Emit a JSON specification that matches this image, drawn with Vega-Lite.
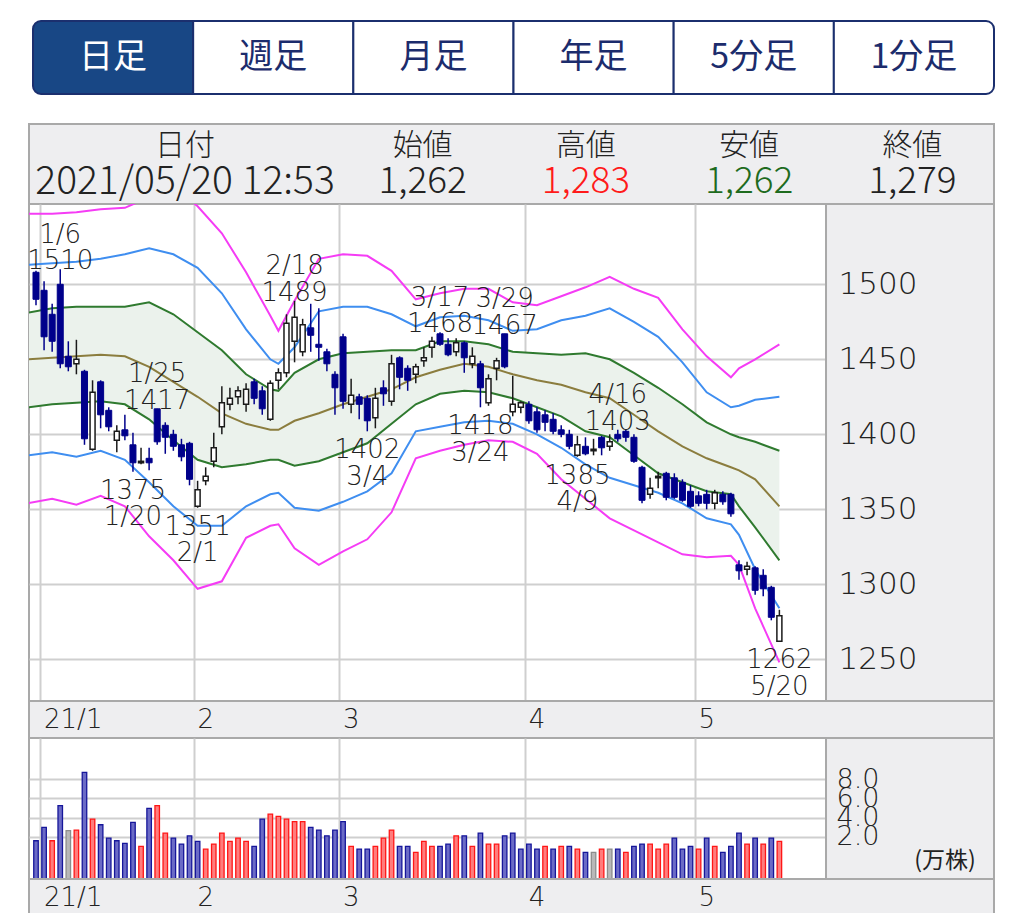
{
  "$schema": "https://vega.github.io/schema/vega-lite/v6.json",
  "background": "white",
  "padding": {"left": 28, "top": 20, "right": 0, "bottom": 0},
  "config": {
    "axis": {"title": null, "labels": false, "ticks": false, "domain": false, "grid": false},
    "view": {"stroke": null},
    "scale": {"continuousPadding": 0},
    "font": "DejaVu Sans"
  },
  "datasets": {
    "tabs": [{"t": "日足"}, {"t": "週足"}, {"t": "月足"}, {"t": "年足"}, {"t": "5分足"}, {"t": "1分足"}],
    "headA": [{"c": "日付", "v": "2021/05/20 12:53"}],
    "headB": [
      {"c": "始値", "v": "1,262", "tone": "n"},
      {"c": "高値", "v": "1,283", "tone": "hi"},
      {"c": "安値", "v": "1,262", "tone": "lo"},
      {"c": "終値", "v": "1,279", "tone": "n"}
    ],
    "months": [{"d": 0.5, "m": "21/1"}, {"d": 19.5, "m": "2"}, {"d": 37.5, "m": "3"}, {"d": 60.5, "m": "4"}, {"d": 81.5, "m": "5"}],
    "notes": [
      {"d": 3, "p": 1510, "t": "1/6\n1510", "k": "hi"},
      {"d": 15, "p": 1417, "t": "1/25\n1417", "k": "hi"},
      {"d": 12, "p": 1375, "t": "1375\n1/20", "k": "lo"},
      {"d": 20, "p": 1351, "t": "1351\n2/1", "k": "lo"},
      {"d": 32, "p": 1489, "t": "2/18\n1489", "k": "hi"},
      {"d": 41, "p": 1402, "t": "1402\n3/4", "k": "lo"},
      {"d": 50, "p": 1468, "t": "3/17\n1468", "k": "hi"},
      {"d": 55, "p": 1418, "t": "1418\n3/24", "k": "lo"},
      {"d": 58, "p": 1467, "t": "3/29\n1467", "k": "hi"},
      {"d": 67, "p": 1385, "t": "1385\n4/9", "k": "lo"},
      {"d": 72, "p": 1403, "t": "4/16\n1403", "k": "hi"},
      {"d": 92, "p": 1262, "t": "1262\n5/20", "k": "lo"}
    ],
    "bands": [
      {"d": -1, "u3": 1547, "u2": 1513, "u1": 1481, "ma": 1450, "l1": 1418, "l2": 1386, "l3": 1354},
      {"d": 2, "u3": 1547, "u2": 1514, "u1": 1484, "ma": 1451, "l1": 1420, "l2": 1388, "l3": 1357},
      {"d": 5, "u3": 1548, "u2": 1515, "u1": 1485, "ma": 1452, "l1": 1421, "l2": 1385, "l3": 1353},
      {"d": 8, "u3": 1550, "u2": 1517, "u1": 1485, "ma": 1453, "l1": 1422, "l2": 1389, "l3": 1359},
      {"d": 11, "u3": 1551, "u2": 1520, "u1": 1485, "ma": 1452, "l1": 1420, "l2": 1383, "l3": 1352},
      {"d": 14, "u3": 1558, "u2": 1524, "u1": 1488, "ma": 1445, "l1": 1410, "l2": 1368, "l3": 1332},
      {"d": 17, "u3": 1565, "u2": 1520, "u1": 1480, "ma": 1435, "l1": 1396, "l2": 1352, "l3": 1316},
      {"d": 20, "u3": 1552, "u2": 1511, "u1": 1468, "ma": 1425, "l1": 1383, "l2": 1339, "l3": 1297},
      {"d": 23, "u3": 1534, "u2": 1494, "u1": 1456, "ma": 1414, "l1": 1378, "l2": 1339, "l3": 1302},
      {"d": 26, "u3": 1508, "u2": 1470, "u1": 1440, "ma": 1407, "l1": 1380, "l2": 1352, "l3": 1331},
      {"d": 29, "u3": 1479, "u2": 1450, "u1": 1430, "ma": 1403, "l1": 1383, "l2": 1360, "l3": 1339},
      {"d": 30, "u3": 1469, "u2": 1447, "u1": 1429, "ma": 1403, "l1": 1383, "l2": 1361, "l3": 1340},
      {"d": 32, "u3": 1489, "u2": 1458, "u1": 1441, "ma": 1409, "l1": 1379, "l2": 1351, "l3": 1324},
      {"d": 35, "u3": 1517, "u2": 1482, "u1": 1450, "ma": 1414, "l1": 1382, "l2": 1349, "l3": 1313},
      {"d": 38, "u3": 1520, "u2": 1485, "u1": 1454, "ma": 1420, "l1": 1388, "l2": 1355, "l3": 1322},
      {"d": 41, "u3": 1519, "u2": 1485, "u1": 1455, "ma": 1425, "l1": 1394, "l2": 1362, "l3": 1330},
      {"d": 44, "u3": 1509, "u2": 1480, "u1": 1456, "ma": 1430, "l1": 1407, "l2": 1374, "l3": 1348},
      {"d": 47, "u3": 1490, "u2": 1472, "u1": 1456, "ma": 1438, "l1": 1420, "l2": 1402, "l3": 1384},
      {"d": 50, "u3": 1494, "u2": 1478, "u1": 1462, "ma": 1443, "l1": 1427, "l2": 1405, "l3": 1389},
      {"d": 53, "u3": 1497, "u2": 1479, "u1": 1462, "ma": 1447, "l1": 1429, "l2": 1408, "l3": 1393},
      {"d": 56, "u3": 1497, "u2": 1476, "u1": 1460, "ma": 1445, "l1": 1428, "l2": 1409, "l3": 1396},
      {"d": 59, "u3": 1488, "u2": 1469, "u1": 1455, "ma": 1440, "l1": 1424, "l2": 1407, "l3": 1395},
      {"d": 62, "u3": 1486, "u2": 1470, "u1": 1454, "ma": 1436, "l1": 1418, "l2": 1400, "l3": 1387},
      {"d": 65, "u3": 1492, "u2": 1476, "u1": 1453, "ma": 1433, "l1": 1412, "l2": 1391, "l3": 1370},
      {"d": 68, "u3": 1498, "u2": 1479, "u1": 1454, "ma": 1428, "l1": 1402, "l2": 1380, "l3": 1357},
      {"d": 71, "u3": 1505, "u2": 1484, "u1": 1450, "ma": 1424, "l1": 1398, "l2": 1371, "l3": 1344},
      {"d": 74, "u3": 1497, "u2": 1475, "u1": 1441, "ma": 1413, "l1": 1386, "l2": 1366, "l3": 1336},
      {"d": 77, "u3": 1491, "u2": 1465, "u1": 1431, "ma": 1402, "l1": 1374, "l2": 1361, "l3": 1328},
      {"d": 80, "u3": 1470, "u2": 1448, "u1": 1420, "ma": 1392, "l1": 1368, "l2": 1354, "l3": 1320},
      {"d": 83, "u3": 1452, "u2": 1428, "u1": 1408, "ma": 1384, "l1": 1362, "l2": 1344, "l3": 1318},
      {"d": 86, "u3": 1438, "u2": 1418, "u1": 1400, "ma": 1378, "l1": 1360, "l2": 1340, "l3": 1319},
      {"d": 87, "u3": 1444, "u2": 1419, "u1": 1398, "ma": 1376, "l1": 1352, "l2": 1333, "l3": 1313},
      {"d": 89, "u3": 1450, "u2": 1423, "u1": 1395, "ma": 1370, "l1": 1338, "l2": 1310, "l3": 1284},
      {"d": 92, "u3": 1460, "u2": 1425, "u1": 1389, "ma": 1352, "l1": 1316, "l2": 1284, "l3": 1248}
    ],
    "candles": [
      {"d": 0, "o": 1508, "h": 1509, "l": 1486, "c": 1490, "v": 1.58, "vc": "down"},
      {"d": 1, "o": 1496, "h": 1502, "l": 1456, "c": 1465, "v": 2.97, "vc": "down"},
      {"d": 2, "o": 1480, "h": 1487, "l": 1455, "c": 1462, "v": 1.58, "vc": "up"},
      {"d": 3, "o": 1500, "h": 1510, "l": 1444, "c": 1447, "v": 5.23, "vc": "down"},
      {"d": 4, "o": 1452, "h": 1462, "l": 1442, "c": 1445, "v": 2.63, "vc": "flat"},
      {"d": 5, "o": 1447, "h": 1463, "l": 1440, "c": 1450, "v": 2.69, "vc": "up"},
      {"d": 6, "o": 1442, "h": 1443, "l": 1393, "c": 1397, "v": 8.7, "vc": "down"},
      {"d": 7, "o": 1390, "h": 1436, "l": 1389, "c": 1428, "v": 3.84, "vc": "up"},
      {"d": 8, "o": 1435, "h": 1436, "l": 1404, "c": 1413, "v": 3.25, "vc": "down"},
      {"d": 9, "o": 1416, "h": 1418, "l": 1402, "c": 1405, "v": 1.86, "vc": "down"},
      {"d": 10, "o": 1396, "h": 1406, "l": 1388, "c": 1402, "v": 1.58, "vc": "down"},
      {"d": 11, "o": 1403, "h": 1413, "l": 1396, "c": 1399, "v": 1.3, "vc": "down"},
      {"d": 12, "o": 1393, "h": 1401, "l": 1375, "c": 1381, "v": 3.5, "vc": "down"},
      {"d": 13, "o": 1381, "h": 1391, "l": 1380, "c": 1382, "v": 0.99, "vc": "up"},
      {"d": 14, "o": 1384, "h": 1391, "l": 1376, "c": 1381, "v": 4.95, "vc": "down"},
      {"d": 15, "o": 1417, "h": 1417, "l": 1393, "c": 1395, "v": 5.23, "vc": "up"},
      {"d": 16, "o": 1406, "h": 1408, "l": 1387, "c": 1398, "v": 2.38, "vc": "up"},
      {"d": 17, "o": 1400, "h": 1403, "l": 1389, "c": 1392, "v": 1.86, "vc": "down"},
      {"d": 18, "o": 1393, "h": 1397, "l": 1382, "c": 1385, "v": 1.24, "vc": "down"},
      {"d": 19, "o": 1394, "h": 1395, "l": 1366, "c": 1370, "v": 2.1, "vc": "down"},
      {"d": 20, "o": 1352, "h": 1369, "l": 1351, "c": 1363, "v": 1.51, "vc": "down"},
      {"d": 21, "o": 1369, "h": 1378, "l": 1366, "c": 1372, "v": 0.71, "vc": "up"},
      {"d": 22, "o": 1382, "h": 1401, "l": 1378, "c": 1391, "v": 1.24, "vc": "up"},
      {"d": 23, "o": 1405, "h": 1432, "l": 1400, "c": 1421, "v": 2.38, "vc": "up"},
      {"d": 24, "o": 1420, "h": 1431, "l": 1416, "c": 1424, "v": 1.51, "vc": "up"},
      {"d": 25, "o": 1425, "h": 1432, "l": 1420, "c": 1429, "v": 1.86, "vc": "up"},
      {"d": 26, "o": 1420, "h": 1434, "l": 1415, "c": 1430, "v": 1.51, "vc": "up"},
      {"d": 27, "o": 1435, "h": 1437, "l": 1420, "c": 1424, "v": 0.99, "vc": "down"},
      {"d": 28, "o": 1429, "h": 1432, "l": 1413, "c": 1417, "v": 3.84, "vc": "down"},
      {"d": 29, "o": 1410, "h": 1436, "l": 1409, "c": 1434, "v": 4.36, "vc": "up"},
      {"d": 30, "o": 1436, "h": 1444, "l": 1430, "c": 1441, "v": 4.12, "vc": "up"},
      {"d": 31, "o": 1441, "h": 1480, "l": 1438, "c": 1474, "v": 3.84, "vc": "up"},
      {"d": 32, "o": 1462, "h": 1489, "l": 1448, "c": 1478, "v": 3.57, "vc": "up"},
      {"d": 33, "o": 1455, "h": 1477, "l": 1452, "c": 1473, "v": 3.57, "vc": "up"},
      {"d": 34, "o": 1471, "h": 1487, "l": 1455, "c": 1466, "v": 2.97, "vc": "down"},
      {"d": 35, "o": 1460, "h": 1484, "l": 1449, "c": 1458, "v": 2.69, "vc": "down"},
      {"d": 36, "o": 1455, "h": 1457, "l": 1442, "c": 1447, "v": 2.1, "vc": "down"},
      {"d": 37, "o": 1440, "h": 1442, "l": 1413, "c": 1431, "v": 2.69, "vc": "down"},
      {"d": 38, "o": 1465, "h": 1467, "l": 1417, "c": 1422, "v": 3.57, "vc": "down"},
      {"d": 39, "o": 1420, "h": 1437, "l": 1414, "c": 1426, "v": 0.99, "vc": "up"},
      {"d": 40, "o": 1425, "h": 1427, "l": 1410, "c": 1420, "v": 0.71, "vc": "down"},
      {"d": 41, "o": 1424, "h": 1426, "l": 1402, "c": 1409, "v": 0.71, "vc": "down"},
      {"d": 42, "o": 1411, "h": 1431, "l": 1404, "c": 1424, "v": 0.99, "vc": "up"},
      {"d": 43, "o": 1431, "h": 1436, "l": 1419, "c": 1427, "v": 1.86, "vc": "up"},
      {"d": 44, "o": 1422, "h": 1453, "l": 1419, "c": 1447, "v": 2.69, "vc": "up"},
      {"d": 45, "o": 1451, "h": 1452, "l": 1430, "c": 1438, "v": 0.99, "vc": "down"},
      {"d": 46, "o": 1444, "h": 1446, "l": 1429, "c": 1436, "v": 0.99, "vc": "down"},
      {"d": 47, "o": 1440, "h": 1447, "l": 1434, "c": 1445, "v": 0.37, "vc": "up"},
      {"d": 48, "o": 1449, "h": 1458, "l": 1445, "c": 1451, "v": 1.51, "vc": "up"},
      {"d": 49, "o": 1458, "h": 1465, "l": 1451, "c": 1462, "v": 0.99, "vc": "up"},
      {"d": 50, "o": 1467, "h": 1468, "l": 1459, "c": 1460, "v": 0.99, "vc": "down"},
      {"d": 51, "o": 1460, "h": 1464, "l": 1452, "c": 1453, "v": 1.24, "vc": "down"},
      {"d": 52, "o": 1455, "h": 1464, "l": 1452, "c": 1461, "v": 2.1, "vc": "up"},
      {"d": 53, "o": 1461, "h": 1462, "l": 1441, "c": 1451, "v": 2.1, "vc": "down"},
      {"d": 54, "o": 1447, "h": 1458, "l": 1444, "c": 1452, "v": 0.99, "vc": "up"},
      {"d": 55, "o": 1447, "h": 1449, "l": 1418, "c": 1431, "v": 2.38, "vc": "down"},
      {"d": 56, "o": 1421, "h": 1440, "l": 1419, "c": 1437, "v": 1.24, "vc": "up"},
      {"d": 57, "o": 1444, "h": 1451, "l": 1436, "c": 1449, "v": 1.24, "vc": "up"},
      {"d": 58, "o": 1467, "h": 1467, "l": 1444, "c": 1445, "v": 2.1, "vc": "down"},
      {"d": 59, "o": 1415, "h": 1439, "l": 1412, "c": 1420, "v": 2.38, "vc": "down"},
      {"d": 60, "o": 1418, "h": 1422, "l": 1414, "c": 1421, "v": 0.71, "vc": "down"},
      {"d": 61, "o": 1420, "h": 1422, "l": 1407, "c": 1409, "v": 1.24, "vc": "down"},
      {"d": 62, "o": 1415, "h": 1418, "l": 1401, "c": 1403, "v": 0.71, "vc": "down"},
      {"d": 63, "o": 1413, "h": 1416, "l": 1402, "c": 1408, "v": 0.99, "vc": "up"},
      {"d": 64, "o": 1410, "h": 1414, "l": 1400, "c": 1402, "v": 0.71, "vc": "down"},
      {"d": 65, "o": 1403, "h": 1406, "l": 1398, "c": 1400, "v": 0.99, "vc": "up"},
      {"d": 66, "o": 1400, "h": 1403, "l": 1390, "c": 1392, "v": 0.99, "vc": "down"},
      {"d": 67, "o": 1386, "h": 1399, "l": 1385, "c": 1393, "v": 0.71, "vc": "up"},
      {"d": 68, "o": 1392, "h": 1398, "l": 1386, "c": 1387, "v": 0.37, "vc": "down"},
      {"d": 69, "o": 1389, "h": 1397, "l": 1386, "c": 1390, "v": 0.37, "vc": "flat"},
      {"d": 70, "o": 1398, "h": 1399, "l": 1386, "c": 1391, "v": 0.71, "vc": "up"},
      {"d": 71, "o": 1392, "h": 1400, "l": 1389, "c": 1395, "v": 0.71, "vc": "flat"},
      {"d": 72, "o": 1400, "h": 1403, "l": 1395, "c": 1397, "v": 0.71, "vc": "down"},
      {"d": 73, "o": 1402, "h": 1403, "l": 1395, "c": 1398, "v": 0.37, "vc": "up"},
      {"d": 74, "o": 1398, "h": 1400, "l": 1381, "c": 1382, "v": 0.99, "vc": "down"},
      {"d": 75, "o": 1378, "h": 1379, "l": 1354, "c": 1356, "v": 1.24, "vc": "down"},
      {"d": 76, "o": 1360, "h": 1371, "l": 1357, "c": 1364, "v": 1.24, "vc": "up"},
      {"d": 77, "o": 1371, "h": 1375, "l": 1364, "c": 1372, "v": 0.71, "vc": "up"},
      {"d": 78, "o": 1374, "h": 1375, "l": 1356, "c": 1358, "v": 1.24, "vc": "up"},
      {"d": 79, "o": 1371, "h": 1374, "l": 1357, "c": 1358, "v": 1.86, "vc": "down"},
      {"d": 80, "o": 1368, "h": 1370, "l": 1355, "c": 1356, "v": 0.71, "vc": "down"},
      {"d": 81, "o": 1362, "h": 1366, "l": 1351, "c": 1352, "v": 0.99, "vc": "down"},
      {"d": 82, "o": 1359, "h": 1362, "l": 1352, "c": 1354, "v": 0.71, "vc": "up"},
      {"d": 83, "o": 1360, "h": 1363, "l": 1350, "c": 1354, "v": 1.86, "vc": "down"},
      {"d": 84, "o": 1354, "h": 1363, "l": 1350, "c": 1361, "v": 0.99, "vc": "up"},
      {"d": 85, "o": 1360, "h": 1362, "l": 1353, "c": 1355, "v": 0.37, "vc": "down"},
      {"d": 86, "o": 1360, "h": 1361, "l": 1345, "c": 1347, "v": 0.99, "vc": "down"},
      {"d": 87, "o": 1313, "h": 1316, "l": 1303, "c": 1309, "v": 2.38, "vc": "down"},
      {"d": 88, "o": 1310, "h": 1315, "l": 1306, "c": 1312, "v": 1.24, "vc": "up"},
      {"d": 89, "o": 1311, "h": 1312, "l": 1293, "c": 1296, "v": 1.86, "vc": "down"},
      {"d": 90, "o": 1306, "h": 1310, "l": 1292, "c": 1297, "v": 1.24, "vc": "up"},
      {"d": 91, "o": 1298, "h": 1299, "l": 1276, "c": 1278, "v": 1.86, "vc": "down"},
      {"d": 92, "o": 1262, "h": 1283, "l": 1262, "c": 1279, "v": 1.51, "vc": "up"}
    ]
  },
  "spacing": 30,
  "bounds": "flush",
  "vconcat": [
    {
      "width": 965,
      "height": 73,
      "view": {"stroke": null},
      "data": {"name": "tabs"},
      "encoding": {
        "x": {"field": "t", "type": "nominal", "sort": null, "scale": {"range": [4, 965], "paddingInner": 0, "paddingOuter": 0}, "axis": null}
      },
      "layer": [
        {"transform": [{"filter": "datum.t == '日足'"}], "mark": {"type": "rect", "fill": "#184785", "stroke": "#1b2f6e", "strokeWidth": 2, "cornerRadiusTopLeft": 8, "cornerRadiusBottomLeft": 8}},
        {"transform": [{"filter": "datum.t != '日足' && datum.t != '1分足'"}], "mark": {"type": "rect", "fill": "white", "stroke": "#1b2f6e", "strokeWidth": 2}},
        {"transform": [{"filter": "datum.t == '1分足'"}], "mark": {"type": "rect", "fill": "white", "stroke": "#1b2f6e", "strokeWidth": 2, "cornerRadiusTopRight": 8, "cornerRadiusBottomRight": 8}},
        {"transform": [{"filter": "datum.t == '日足'"}], "mark": {"type": "text", "font": "Noto Sans CJK JP", "fontSize": 34, "color": "white"}, "encoding": {"text": {"field": "t"}}},
        {"transform": [{"filter": "datum.t != '日足'"}], "mark": {"type": "text", "font": "Noto Sans CJK JP", "fontSize": 34, "color": "#1c2c6c"}, "encoding": {"text": {"field": "t"}}}
      ]
    },
    {
      "spacing": 0,
      "bounds": "flush",
      "vconcat": [
        {
          "width": 965,
          "height": 80,
          "view": {"fill": "#eeeef0", "stroke": "#a9a9a9", "strokeWidth": 2},
          "resolve": {"scale": {"x": "independent"}},
          "layer": [
            {
              "data": {"name": "headA"},
              "mark": {"type": "text", "font": "Noto Sans CJK JP", "fontSize": 30, "fontWeight": 300, "color": "#222222"},
              "encoding": {
                "x": {"field": "c", "type": "nominal", "scale": {"range": [0, 312]}, "axis": null},
                "y": {"datum": "top", "type": "ordinal", "scale": {"type": "point", "domain": ["top", "bottom"], "padding": 0.6}, "axis": null},
                "text": {"field": "c"}
              }
            },
            {
              "data": {"name": "headA"},
              "mark": {"type": "text", "font": "Noto Sans CJK JP", "fontSize": 39, "fontWeight": 300, "color": "#222222"},
              "encoding": {
                "x": {"field": "c", "type": "nominal", "scale": {"range": [0, 312]}, "axis": null},
                "y": {"datum": "bottom", "type": "ordinal", "scale": {"type": "point", "domain": ["top", "bottom"], "padding": 0.6}, "axis": null},
                "text": {"field": "v"}
              }
            },
            {
              "data": {"name": "headB"},
              "mark": {"type": "text", "font": "Noto Sans CJK JP", "fontSize": 30, "fontWeight": 300, "color": "#222222"},
              "encoding": {
                "x": {"field": "c", "type": "nominal", "sort": null, "scale": {"range": [312, 965]}, "axis": null},
                "y": {"datum": "top", "type": "ordinal", "scale": {"type": "point", "domain": ["top", "bottom"], "padding": 0.6}, "axis": null},
                "text": {"field": "c"}
              }
            },
            {
              "data": {"name": "headB"},
              "transform": [{"filter": "datum.tone == 'n'"}],
              "mark": {"type": "text", "font": "Noto Sans CJK JP", "fontSize": 37, "fontWeight": 300, "color": "#222222"},
              "encoding": {
                "x": {"field": "c", "type": "nominal", "sort": ["始値", "高値", "安値", "終値"], "scale": {"domain": ["始値", "高値", "安値", "終値"], "range": [312, 965]}, "axis": null},
                "y": {"datum": "bottom", "type": "ordinal", "scale": {"type": "point", "domain": ["top", "bottom"], "padding": 0.6}, "axis": null},
                "text": {"field": "v"}
              }
            },
            {
              "data": {"name": "headB"},
              "transform": [{"filter": "datum.tone == 'hi'"}],
              "mark": {"type": "text", "font": "Noto Sans CJK JP", "fontSize": 37, "fontWeight": 300, "color": "#ff1a1a"},
              "encoding": {
                "x": {"field": "c", "type": "nominal", "sort": ["始値", "高値", "安値", "終値"], "scale": {"domain": ["始値", "高値", "安値", "終値"], "range": [312, 965]}, "axis": null},
                "y": {"datum": "bottom", "type": "ordinal", "scale": {"type": "point", "domain": ["top", "bottom"], "padding": 0.6}, "axis": null},
                "text": {"field": "v"}
              }
            },
            {
              "data": {"name": "headB"},
              "transform": [{"filter": "datum.tone == 'lo'"}],
              "mark": {"type": "text", "font": "Noto Sans CJK JP", "fontSize": 37, "fontWeight": 300, "color": "#1e6b1e"},
              "encoding": {
                "x": {"field": "c", "type": "nominal", "sort": ["始値", "高値", "安値", "終値"], "scale": {"domain": ["始値", "高値", "安値", "終値"], "range": [312, 965]}, "axis": null},
                "y": {"datum": "bottom", "type": "ordinal", "scale": {"type": "point", "domain": ["top", "bottom"], "padding": 0.6}, "axis": null},
                "text": {"field": "v"}
              }
            }
          ]
        },
        {
          "width": 965,
          "height": 497,
          "view": {"fill": "white", "stroke": "#a9a9a9", "strokeWidth": 2},
          "resolve": {"axis": {"y": "independent"}},
          "layer": [
            {
              "encoding": {
                "x": {"field": "d", "type": "quantitative", "scale": {"domain": [-0.866, 118.56], "nice": false, "zero": false, "padding": 0},
                  "axis": {"values": [0.5, 19.5, 37.5, 60.5, 81.5], "grid": true, "gridColor": "#cfcfcf", "gridWidth": 2}}
              },
              "layer": [
                {
                  "data": {"name": "bands"},
                  "mark": {"type": "area", "color": "#ebf2ec", "clip": true},
                  "encoding": {
                    "y": {"field": "u1", "type": "quantitative", "scale": {"domain": [1222.2, 1553.53], "nice": false, "zero": false, "padding": 0},
                      "axis": {"orient": "left", "values": [1250, 1300, 1350, 1400, 1450, 1500], "grid": true, "gridColor": "#cfcfcf", "gridWidth": 2}},
                    "y2": {"field": "l1"}
                  }
                },
                {
                  "data": {"name": "bands"},
                  "transform": [{"fold": ["u3", "u2", "u1", "ma", "l1", "l2", "l3"], "as": ["band", "val"]}],
                  "mark": {"type": "line", "strokeWidth": 2, "clip": true},
                  "encoding": {
                    "y": {"field": "val", "type": "quantitative", "scale": {"domain": [1222.2, 1553.53], "nice": false, "zero": false, "padding": 0}},
                    "color": {"field": "band", "type": "nominal", "scale": {"domain": ["u3", "u2", "u1", "ma", "l1", "l2", "l3"], "range": ["#f53cf5", "#3f8ef0", "#2f7a2f", "#8b7d3e", "#2f7a2f", "#3f8ef0", "#f53cf5"]}, "legend": null}
                  }
                },
                {
                  "data": {"values": [{}]},
                  "mark": {"type": "rule", "color": "#555555", "strokeWidth": 1.5, "strokeDash": [4, 3]},
                  "encoding": {"x": {"datum": -0.75, "type": "quantitative"}}
                },
                {
                  "data": {"name": "candles"},
                  "transform": [{"filter": "datum.c < datum.o"}],
                  "mark": {"type": "rule", "color": "#00008b", "strokeWidth": 1.5},
                  "encoding": {
                    "y": {"field": "l", "type": "quantitative", "scale": {"domain": [1222.2, 1553.53], "nice": false, "zero": false, "padding": 0}},
                    "y2": {"field": "h"}
                  }
                },
                {
                  "data": {"name": "candles"},
                  "transform": [{"filter": "datum.c >= datum.o"}],
                  "mark": {"type": "rule", "color": "#1a1a1a", "strokeWidth": 1.5},
                  "encoding": {
                    "y": {"field": "l", "type": "quantitative", "scale": {"domain": [1222.2, 1553.53], "nice": false, "zero": false, "padding": 0}},
                    "y2": {"field": "h"}
                  }
                },
                {
                  "data": {"name": "candles"},
                  "transform": [{"filter": "datum.c < datum.o"}],
                  "mark": {"type": "bar", "width": 6, "fill": "#00008b", "stroke": "#00008b", "strokeWidth": 1},
                  "encoding": {
                    "y": {"field": "o", "type": "quantitative", "scale": {"domain": [1222.2, 1553.53], "nice": false, "zero": false, "padding": 0}},
                    "y2": {"field": "c"}
                  }
                },
                {
                  "data": {"name": "candles"},
                  "transform": [{"filter": "datum.c >= datum.o"}],
                  "mark": {"type": "bar", "width": 5, "fill": "white", "stroke": "#1a1a1a", "strokeWidth": 1.5},
                  "encoding": {
                    "y": {"field": "o", "type": "quantitative", "scale": {"domain": [1222.2, 1553.53], "nice": false, "zero": false, "padding": 0}},
                    "y2": {"field": "c"}
                  }
                },
                {
                  "data": {"name": "notes"},
                  "transform": [{"filter": "datum.k == 'hi'"}],
                  "mark": {"type": "text", "lineBreak": "\n", "lineHeight": 26.5, "fontSize": 26, "fontWeight": 300, "font": "DejaVu Sans", "color": "#222222", "baseline": "bottom", "align": "center", "dy": -21.5, "clip": true},
                  "encoding": {
                    "y": {"field": "p", "type": "quantitative", "scale": {"domain": [1222.2, 1553.53], "nice": false, "zero": false, "padding": 0}},
                    "text": {"field": "t"}
                  }
                },
                {
                  "data": {"name": "notes"},
                  "transform": [{"filter": "datum.k == 'lo'"}],
                  "mark": {"type": "text", "lineBreak": "\n", "lineHeight": 26.5, "fontSize": 26, "fontWeight": 300, "font": "DejaVu Sans", "color": "#222222", "baseline": "top", "align": "center", "dy": 6, "clip": true},
                  "encoding": {
                    "y": {"field": "p", "type": "quantitative", "scale": {"domain": [1222.2, 1553.53], "nice": false, "zero": false, "padding": 0}},
                    "text": {"field": "t"}
                  }
                }
              ]
            },
            {
              "data": {"values": [{}]},
              "mark": {"type": "rect", "fill": "#eeeef0", "stroke": "#a9a9a9", "strokeWidth": 2},
              "encoding": {
                "x": {"datum": 97.77, "type": "quantitative", "scale": {"domain": [-0.866, 118.56], "nice": false, "zero": false, "padding": 0},
                  "axis": {"values": [0.5, 19.5, 37.5, 60.5, 81.5], "grid": true, "gridColor": "#cfcfcf", "gridWidth": 2}},
                "x2": {"datum": 118.56},
                "y": {"datum": 1222.2, "type": "quantitative", "scale": {"domain": [1222.2, 1553.53], "nice": false, "zero": false, "padding": 0},
                  "axis": {"orient": "right", "offset": -156, "values": [1250, 1300, 1350, 1400, 1450, 1500], "format": "d", "labels": true, "labelAlign": "left", "labelBaseline": "middle", "labelPadding": 0, "tickSize": 0, "labelFontSize": 31, "labelFont": "DejaVu Sans", "labelFontWeight": 300, "labelColor": "#222222", "labelFlush": false, "labelOverlap": false, "grid": false, "zindex": 1}},
                "y2": {"datum": 1553.53}
              }
            }
          ]
        },
        {
          "width": 965,
          "height": 37,
          "view": {"fill": "#eeeef0", "stroke": "#a9a9a9", "strokeWidth": 2},
          "data": {"name": "months"},
          "mark": {"type": "text", "align": "left", "baseline": "middle", "dx": 4, "fontSize": 26, "fontWeight": 300, "font": "DejaVu Sans", "color": "#222222"},
          "encoding": {
            "x": {"field": "d", "type": "quantitative", "scale": {"domain": [-0.866, 118.56], "nice": false, "zero": false, "padding": 0}, "axis": null},
            "text": {"field": "m"}
          }
        },
        {
          "width": 965,
          "height": 141,
          "view": {"fill": "white", "stroke": "#a9a9a9", "strokeWidth": 2},
          "resolve": {"axis": {"y": "independent"}},
          "layer": [
            {
              "encoding": {
                "x": {"field": "d", "type": "quantitative", "scale": {"domain": [-0.866, 118.56], "nice": false, "zero": false, "padding": 0},
                  "axis": {"values": [0.5, 19.5, 37.5, 60.5, 81.5], "grid": true, "gridColor": "#cfcfcf", "gridWidth": 2}}
              },
              "layer": [
                {
                  "data": {"name": "candles"},
                  "mark": {"type": "bar", "width": 4.5, "strokeWidth": 1.3},
                  "encoding": {
                    "y": {"field": "v", "type": "quantitative", "scale": {"domain": [-2.4, 12.28], "nice": false, "zero": false, "padding": 0},
                      "axis": {"orient": "left", "values": [2, 4, 6, 8], "grid": true, "gridColor": "#cfcfcf", "gridWidth": 2}},
                    "y2": {"datum": -2.4},
                    "fill": {"field": "vc", "type": "nominal", "scale": {"domain": ["down", "up", "flat"], "range": ["#6b6bc6", "#ff7d7d", "#b8b8b8"]}, "legend": null},
                    "stroke": {"field": "vc", "type": "nominal", "scale": {"domain": ["down", "up", "flat"], "range": ["#16169a", "#ff1616", "#8c8c8c"]}, "legend": null}
                  }
                },
                {
                  "data": {"values": [{}]},
                  "mark": {"type": "rule", "color": "#555555", "strokeWidth": 1.5, "strokeDash": [4, 3]},
                  "encoding": {"x": {"datum": -0.75, "type": "quantitative"}}
                }
              ]
            },
            {
              "layer": [
                {
                  "data": {"values": [{}]},
                  "mark": {"type": "rect", "fill": "#eeeef0", "stroke": "#a9a9a9", "strokeWidth": 2},
                  "encoding": {
                    "x": {"datum": 97.77, "type": "quantitative", "scale": {"domain": [-0.866, 118.56], "nice": false, "zero": false, "padding": 0},
                      "axis": {"values": [0.5, 19.5, 37.5, 60.5, 81.5], "grid": true, "gridColor": "#cfcfcf", "gridWidth": 2}},
                    "x2": {"datum": 118.56},
                    "y": {"datum": -2.4, "type": "quantitative", "scale": {"domain": [-2.4, 12.28], "nice": false, "zero": false, "padding": 0},
                      "axis": {"orient": "right", "offset": -158, "values": [2, 4, 6, 8], "format": ".1f", "labels": true, "labelAlign": "left", "labelBaseline": "middle", "labelPadding": 0, "tickSize": 0, "labelFontSize": 27, "labelFont": "DejaVu Sans", "labelFontWeight": 300, "labelColor": "#222222", "labelFlush": false, "labelOverlap": false, "grid": false, "zindex": 1}},
                    "y2": {"datum": 12.28}
                  }
                },
                {
                  "data": {"values": [{"u": "(万株)"}]},
                  "mark": {"type": "text", "align": "left", "baseline": "middle", "font": "Noto Sans CJK JP", "fontSize": 23, "color": "#222222"},
                  "encoding": {
                    "x": {"datum": 108.7, "type": "quantitative"},
                    "y": {"datum": -0.5, "type": "quantitative"},
                    "text": {"field": "u"}
                  }
                }
              ]
            }
          ]
        },
        {
          "width": 965,
          "height": 37,
          "view": {"fill": "#eeeef0", "stroke": "#a9a9a9", "strokeWidth": 2},
          "data": {"name": "months"},
          "mark": {"type": "text", "align": "left", "baseline": "middle", "dx": 4, "fontSize": 26, "fontWeight": 300, "font": "DejaVu Sans", "color": "#222222"},
          "encoding": {
            "x": {"field": "d", "type": "quantitative", "scale": {"domain": [-0.866, 118.56], "nice": false, "zero": false, "padding": 0}, "axis": null},
            "text": {"field": "m"}
          }
        }
      ]
    }
  ]
}
